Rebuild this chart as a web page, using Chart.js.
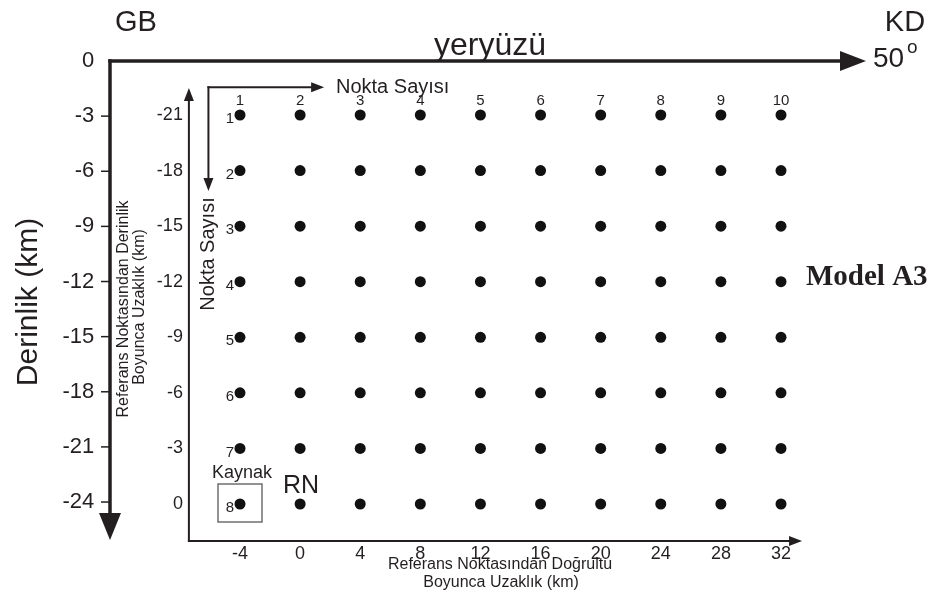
<!DOCTYPE html>
<html><head><meta charset="utf-8">
<script src="https://cdn.jsdelivr.net/npm/chart.js@4/dist/chart.umd.min.js"></script>
<style>html,body{margin:0;padding:0;background:#fff}canvas{display:block}</style>
</head><body>
<canvas id="c" width="935" height="599"></canvas>
<script>
// ---- data ----
const xDistances = [-4, 0, 4, 8, 12, 16, 20, 24, 28, 32];          // Referans Noktasından Doğrultu Boyunca Uzaklık (km)
const innerDepths = [-21, -18, -15, -12, -9, -6, -3, 0];          // Referans Noktasından Derinlik Boyunca Uzaklık (km)
const depthTicks = [0, -3, -6, -9, -12, -15, -18, -21, -24];      // Derinlik (km)
const columnNumbers = ['1','2','3','4','5','6','7','8','9','10'];
const rowNumbers = ['1','2','3','4','5','6','7','8'];

const points = [];
innerDepths.forEach(yv => xDistances.forEach(xv => points.push({x: xv, y: yv})));

const FONT = "'Liberation Sans', Arial, Helvetica, sans-serif";
const TXT = '#231f20';

function arrowLine(ctx, x1, y1, x2, y2, lw, hl, hw) {
  const a = Math.atan2(y2 - y1, x2 - x1);
  const bx = x2 - hl * Math.cos(a), by = y2 - hl * Math.sin(a);
  ctx.save();
  ctx.strokeStyle = TXT; ctx.fillStyle = TXT; ctx.lineWidth = lw; ctx.lineCap = 'butt';
  ctx.beginPath(); ctx.moveTo(x1, y1); ctx.lineTo(bx + Math.cos(a) * 2, by + Math.sin(a) * 2); ctx.stroke();
  ctx.beginPath();
  ctx.moveTo(x2, y2);
  ctx.lineTo(bx + hw * Math.sin(a), by - hw * Math.cos(a));
  ctx.lineTo(bx - hw * Math.sin(a), by + hw * Math.cos(a));
  ctx.closePath(); ctx.fill();
  ctx.restore();
}
function text(ctx, s, x, y, font, align, base, rot) {
  ctx.save();
  ctx.font = font; ctx.fillStyle = TXT;
  ctx.textAlign = align || 'center'; ctx.textBaseline = base || 'middle';
  ctx.translate(x, y);
  if (rot) ctx.rotate(rot);
  ctx.fillText(s, 0, 0);
  ctx.restore();
}

const INNER_AXIS_X = -7.4;   // inner vertical axis location (x value)
const INNER_AXIS_Y = 2.0;    // inner horizontal axis location (inner y value)

const deco = {
  id: 'deco',
  beforeDatasetsDraw(chart) {
    const ctx = chart.ctx, ca = chart.chartArea;
    const sx = chart.scales.x, sy = chart.scales.y, so = chart.scales.yo;
    // outer axes
    const ox = ca.left, oy = so.getPixelForValue(0);
    arrowLine(ctx, ox, oy - 1.75, ox, ca.bottom - 1, 3.5, 27, 11);
    arrowLine(ctx, ox - 1.75, oy, ca.right, oy, 3.5, 26, 10);
    ctx.save(); ctx.strokeStyle = TXT; ctx.lineWidth = 1.5;
    depthTicks.forEach(v => {
      if (v === 0) return;
      const py = so.getPixelForValue(v);
      ctx.beginPath(); ctx.moveTo(ox - 9, py); ctx.lineTo(ox, py); ctx.stroke();
    });
    ctx.restore();
    // inner axes
    const ix = sx.getPixelForValue(INNER_AXIS_X), iy = sy.getPixelForValue(INNER_AXIS_Y);
    arrowLine(ctx, ix, iy + 1, ix, sy.getPixelForValue(-22.46), 2, 13, 5);
    arrowLine(ctx, ix - 1, iy, sx.getPixelForValue(33.4), iy, 2, 13, 5);
    // Nokta Sayısı arrows
    const nx = sx.getPixelForValue(-6.1), ny = sy.getPixelForValue(-22.5);
    arrowLine(ctx, nx - 1, ny, sx.getPixelForValue(1.6), ny, 2, 13, 5);
    arrowLine(ctx, nx, ny - 1, nx, sy.getPixelForValue(-16.9), 2, 13, 5);
    // Kaynak box around source point
    const kx = sx.getPixelForValue(xDistances[0]), ky = sy.getPixelForValue(innerDepths[innerDepths.length - 1]);
    ctx.save(); ctx.strokeStyle = '#6d6e71'; ctx.lineWidth = 1.5;
    ctx.strokeRect(kx - 22, ky - 20, 44, 38);
    ctx.restore();
  },
  afterDraw(chart) {
    const ctx = chart.ctx;
    const sx = chart.scales.x, sy = chart.scales.y;
    // column & row numbers
    xDistances.forEach((v, i) => text(ctx, columnNumbers[i], sx.getPixelForValue(v), sy.getPixelForValue(innerDepths[0]) - 14, '15px ' + FONT));
    innerDepths.forEach((v, i) => text(ctx, rowNumbers[i], sx.getPixelForValue(xDistances[0]) - 6, sy.getPixelForValue(v) + 4, '15px ' + FONT, 'right'));
    const kx = sx.getPixelForValue(xDistances[0]), ky = sy.getPixelForValue(0);
    text(ctx, 'Kaynak', kx + 2, ky - 31, '18px ' + FONT);
    text(ctx, 'RN', sx.getPixelForValue(xDistances[1]) + 1, ky - 18, '25px ' + FONT);
    // titles
    text(ctx, 'GB', 136, 23, '29px ' + FONT);
    text(ctx, 'KD', 905, 23, '29px ' + FONT);
    text(ctx, '50', 873, 59, '28px ' + FONT, 'left');
    text(ctx, 'o', 907, 48, '19px ' + FONT, 'left');
    text(ctx, 'yeryüzü', 490, 55, '32px ' + FONT, 'center', 'alphabetic');
    text(ctx, 'Derinlik (km)', 29, 302, '30px ' + FONT, 'center', 'middle', -Math.PI / 2);
    text(ctx, 'Referans Noktasından Derinlik', 124, 309, '16px ' + FONT, 'center', 'middle', -Math.PI / 2);
    text(ctx, 'Boyunca Uzaklık (km)', 140, 307, '16px ' + FONT, 'center', 'middle', -Math.PI / 2);
    text(ctx, 'Referans Noktasından Doğrultu', 500, 565, '16px ' + FONT);
    text(ctx, 'Boyunca Uzaklık (km)', 501, 583, '16px ' + FONT);
    text(ctx, 'Nokta Sayısı', 336, 87, '20px ' + FONT, 'left');
    text(ctx, 'Nokta Sayısı', 208, 254, '20px ' + FONT, 'center', 'middle', -Math.PI / 2);
    text(ctx, 'Model A3', 806, 278, "bold 29px 'Liberation Serif', 'Times New Roman', serif", 'left');
  }
};

new Chart(document.getElementById('c'), {
  type: 'scatter',
  data: { datasets: [{
    data: points,
    pointRadius: 5.5, pointHoverRadius: 5.5,
    pointBackgroundColor: '#111', pointBorderColor: '#111', pointBorderWidth: 0,
    showLine: false
  }]},
  options: {
    responsive: false, animation: false, devicePixelRatio: 1,
    layout: { padding: { left: 110, right: 69, top: 61, bottom: 58 } },
    plugins: { legend: { display: false }, tooltip: { enabled: false } },
    events: [],
    scales: {
      x: {
        type: 'linear', min: -12.65, max: 37.656,
        position: { y: INNER_AXIS_Y },
        grid: { display: false, drawTicks: false }, border: { display: false },
        afterBuildTicks: s => { s.ticks = xDistances.map(v => ({ value: v })); },
        ticks: { autoSkip: false, maxRotation: 0, padding: 2, color: TXT, font: { family: FONT, size: 18 } }
      },
      y: {
        type: 'linear', reverse: true, min: -23.915, max: 1.997,
        position: { x: -7.8 },
        grid: { display: false, drawTicks: false }, border: { display: false },
        afterBuildTicks: s => { s.ticks = innerDepths.map(v => ({ value: v })); },
        ticks: { autoSkip: false, padding: 0, color: TXT, font: { family: FONT, size: 18 } }
      },
      yo: {
        type: 'linear', min: -26.12, max: 0, axis: 'y',
        position: { x: -13.7 },
        grid: { display: false, drawTicks: false }, border: { display: false },
        afterBuildTicks: s => { s.ticks = depthTicks.map(v => ({ value: v })); },
        ticks: { autoSkip: false, padding: 0, color: TXT, font: { family: FONT, size: 22 } }
      }
    }
  },
  plugins: [deco]
});
</script>
</body></html>
